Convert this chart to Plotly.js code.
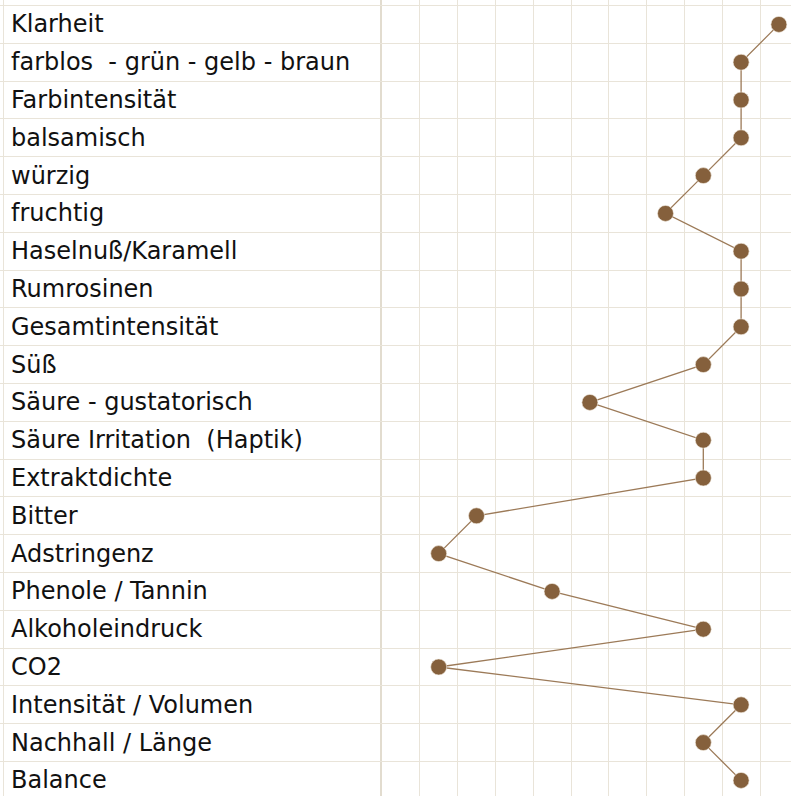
<!DOCTYPE html>
<html>
<head>
<meta charset="utf-8">
<script src="https://cdn.plot.ly/plotly-3.0.1.min.js"></script>
<style>html,body{margin:0;padding:0;background:#fff;}#chart{width:791px;height:796px;}</style>
</head>
<body>
<div id="chart"></div>
<script>
const categories = [
  "Klarheit",
  "farblos  - grün - gelb - braun",
  "Farbintensität",
  "balsamisch",
  "würzig",
  "fruchtig",
  "Haselnuß/Karamell",
  "Rumrosinen",
  "Gesamtintensität",
  "Süß",
  "Säure - gustatorisch",
  "Säure Irritation  (Haptik)",
  "Extraktdichte",
  "Bitter",
  "Adstringenz",
  "Phenole / Tannin",
  "Alkoholeindruck",
  "CO2",
  "Intensität / Volumen",
  "Nachhall / Länge",
  "Balance"
];
const values = [10, 9, 9, 9, 8, 7, 9, 9, 9, 8, 5, 8, 8, 2, 1, 4, 8, 1, 9, 8, 9];

const W = 791, H = 796;
const cell = 37.8;
const sepX = 382;
const gridColor = "#e9e4d9";
const yRange = [(H - 24.4) / cell, -24.4 / cell];

const traces = [
  {
    x: values, y: categories, xaxis: "x", yaxis: "y",
    type: "scatter", mode: "lines+markers",
    line: {color: "#9c7a58", width: 1.3},
    marker: {color: "#85603c", size: 16, line: {color: "#f3ece2", width: 0.6}},
    hoverinfo: "x+y", showlegend: false, cliponaxis: false
  },
  {x: [], y: [], xaxis: "x2", yaxis: "y2", type: "scatter", mode: "markers", showlegend: false, hoverinfo: "skip"}
];

const annotations = categories.map(c => ({
  text: c, xref: "paper", x: 9 / W, xanchor: "left",
  yref: "y", y: c, yanchor: "middle", yshift: 0,
  showarrow: false, font: {family: "DejaVu Sans", size: 24, color: "#111111"}
}));

const layout = {
  width: W, height: H,
  margin: {l: 0, r: 0, t: 0, b: 0, pad: 0},
  paper_bgcolor: "#ffffff", plot_bgcolor: "#ffffff",
  showlegend: false,
  xaxis: {
    domain: [sepX / W, 1], anchor: "y",
    range: [-0.5, -0.5 + (W - sepX) / cell],
    tick0: -0.5, dtick: 1, showgrid: true, gridcolor: gridColor, gridwidth: 1,
    zeroline: false, showticklabels: false, ticks: "", showline: false
  },
  yaxis: {
    domain: [0, 1], anchor: "x", type: "category",
    categoryorder: "array", categoryarray: categories,
    range: yRange, tickson: "boundaries",
    showgrid: true, gridcolor: gridColor, gridwidth: 1,
    zeroline: false, showticklabels: false, ticks: "",
    showline: true, linecolor: "#e2dccf", linewidth: 2
  },
  xaxis2: {
    domain: [0, sepX / W], anchor: "y2",
    range: [0, sepX], tickvals: [3], showgrid: true, gridcolor: gridColor, gridwidth: 1,
    zeroline: false, showticklabels: false, ticks: "", showline: false
  },
  yaxis2: {
    domain: [0, 1], anchor: "x2",
    range: yRange, tick0: -0.5, dtick: 1,
    showgrid: true, gridcolor: gridColor, gridwidth: 1,
    zeroline: false, showticklabels: false, ticks: "", showline: false
  },
  annotations: annotations
};

Plotly.newPlot("chart", traces, layout, {staticPlot: true, displayModeBar: false});
</script>
</body>
</html>
